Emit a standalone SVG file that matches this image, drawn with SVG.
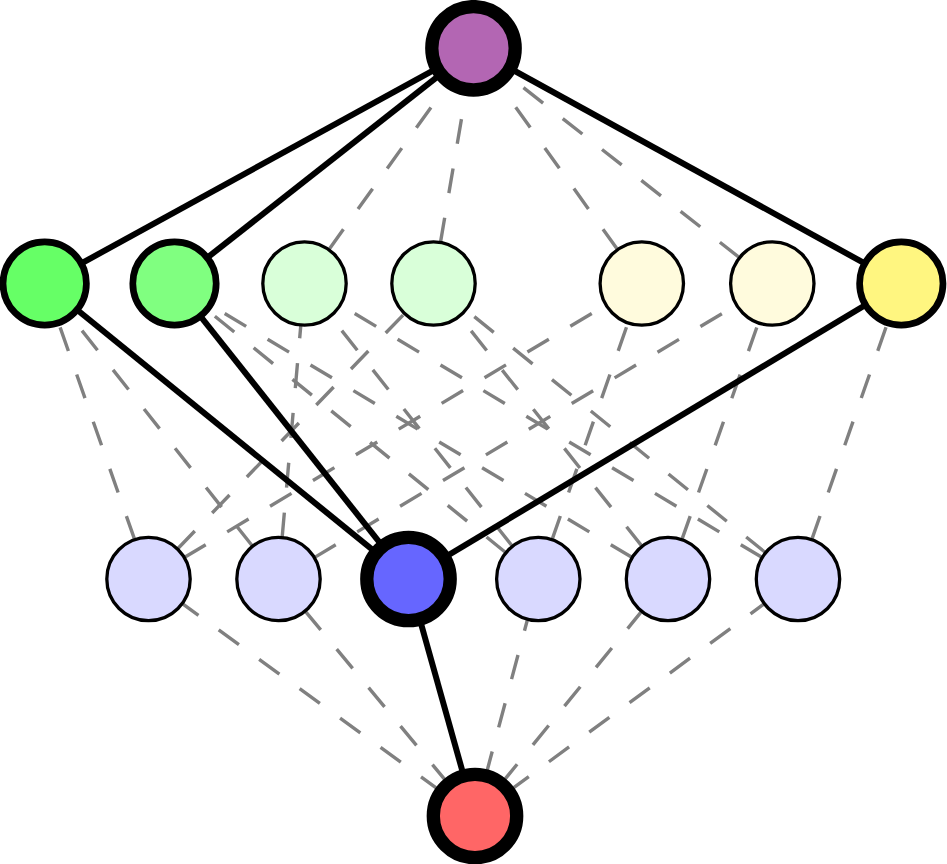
<svg xmlns="http://www.w3.org/2000/svg" width="947" height="864" viewBox="0 0 947 864">
<style>
.dash{stroke:#808080;stroke-width:3.4;stroke-dasharray:25 25;stroke-dashoffset:8.3;fill:none}
.solid{stroke:#000;stroke-width:6;fill:none}
circle{stroke:#000}
.thin{stroke-width:3.3}
.mid{stroke-width:6.7}
.thick{stroke-width:13.3}
</style>
<rect width="947" height="864" fill="#fff"/>
<g id="connectors">
<line class="dash" x1="304.5" y1="283.5" x2="473.5" y2="48.3"/>
<line class="dash" x1="433.5" y1="283.5" x2="473.5" y2="48.3"/>
<line class="dash" x1="641.8" y1="283.5" x2="473.5" y2="48.3"/>
<line class="dash" x1="772.3" y1="283.5" x2="473.5" y2="48.3"/>
<line class="dash" x1="148.5" y1="579" x2="44.7" y2="283.5"/>
<line class="dash" x1="148.5" y1="579" x2="433.5" y2="283.5"/>
<line class="dash" x1="148.5" y1="579" x2="641.8" y2="283.5"/>
<line class="dash" x1="278.5" y1="579" x2="44.7" y2="283.5"/>
<line class="dash" x1="278.5" y1="579" x2="304.5" y2="283.5"/>
<line class="dash" x1="278.5" y1="579" x2="772.3" y2="283.5"/>
<line class="dash" x1="538.3" y1="579" x2="174.5" y2="283.5"/>
<line class="dash" x1="538.3" y1="579" x2="304.5" y2="283.5"/>
<line class="dash" x1="538.3" y1="579" x2="641.8" y2="283.5"/>
<line class="dash" x1="668" y1="579" x2="174.5" y2="283.5"/>
<line class="dash" x1="668" y1="579" x2="433.5" y2="283.5"/>
<line class="dash" x1="668" y1="579" x2="772.3" y2="283.5"/>
<line class="dash" x1="798" y1="579" x2="304.5" y2="283.5"/>
<line class="dash" x1="798" y1="579" x2="433.5" y2="283.5"/>
<line class="dash" x1="798" y1="579" x2="901.3" y2="283.5"/>
<line class="dash" x1="475" y1="816" x2="148.5" y2="579"/>
<line class="dash" x1="475" y1="816" x2="278.5" y2="579"/>
<line class="dash" x1="475" y1="816" x2="538.3" y2="579"/>
<line class="dash" x1="475" y1="816" x2="668" y2="579"/>
<line class="dash" x1="475" y1="816" x2="798" y2="579"/>
<line class="solid" x1="44.7" y1="283.5" x2="473.5" y2="48.3"/>
<line class="solid" x1="174.5" y1="283.5" x2="473.5" y2="48.3"/>
<line class="solid" x1="901.3" y1="283.5" x2="473.5" y2="48.3"/>
<line class="solid" x1="408.5" y1="579" x2="44.7" y2="283.5"/>
<line class="solid" x1="408.5" y1="579" x2="174.5" y2="283.5"/>
<line class="solid" x1="408.5" y1="579" x2="901.3" y2="283.5"/>
<line class="solid" x1="475" y1="816" x2="408.5" y2="579"/>
</g>
<g id="top"><circle class="thick" cx="473.5" cy="48.3" r="41.7" fill="#b366b3"/></g>
<g id="A"><circle class="mid" cx="44.7" cy="283.5" r="41.7" fill="#66ff66"/></g>
<g id="B"><circle class="mid" cx="174.5" cy="283.5" r="41.7" fill="#80ff80"/></g>
<g id="C"><circle class="thin" cx="304.5" cy="283.5" r="41.7" fill="#d9ffd9"/></g>
<g id="D"><circle class="thin" cx="433.5" cy="283.5" r="41.7" fill="#d9ffd9"/></g>
<g id="E"><circle class="thin" cx="641.8" cy="283.5" r="41.7" fill="#fffbdd"/></g>
<g id="F"><circle class="thin" cx="772.3" cy="283.5" r="41.7" fill="#fffbdd"/></g>
<g id="G"><circle class="mid" cx="901.3" cy="283.5" r="41.7" fill="#fff680"/></g>
<g id="a"><circle class="thin" cx="148.5" cy="579" r="41.7" fill="#d9d9ff"/></g>
<g id="b"><circle class="thin" cx="278.5" cy="579" r="41.7" fill="#d9d9ff"/></g>
<g id="c"><circle class="thick" cx="408.5" cy="579" r="41.7" fill="#6666ff"/></g>
<g id="d"><circle class="thin" cx="538.3" cy="579" r="41.7" fill="#d9d9ff"/></g>
<g id="e"><circle class="thin" cx="668" cy="579" r="41.7" fill="#d9d9ff"/></g>
<g id="f"><circle class="thin" cx="798" cy="579" r="41.7" fill="#d9d9ff"/></g>
<g id="bottom"><circle class="thick" cx="475" cy="816" r="41.7" fill="#ff6666"/></g>
</svg>
